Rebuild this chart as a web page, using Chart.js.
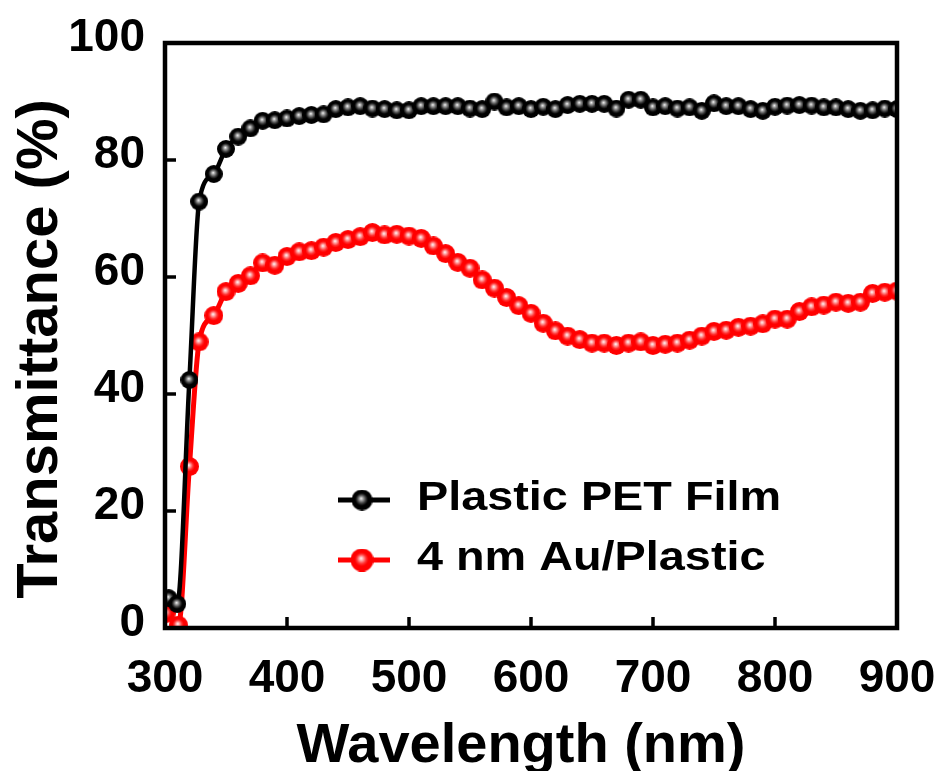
<!DOCTYPE html>
<html>
<head>
<meta charset="utf-8">
<script src="https://cdn.jsdelivr.net/npm/chart.js@4/dist/chart.umd.min.js"></script>
<style>
  html, body { margin: 0; padding: 0; background: #fff; }
  #wrap { width: 935px; height: 771px; }
</style>
</head>
<body>
<div id="wrap"><canvas id="chart" width="935" height="771"></canvas></div>
<script>
// Plastic PET film
const petWavelengths = [303, 310, 320, 328, 340, 350, 360, 370, 380, 390, 400, 410, 420, 430, 440, 450, 460, 470, 480, 490,
  500, 510, 520, 530, 540, 550, 560, 570, 580, 590, 600, 610, 620, 630, 640, 650, 660, 670, 680, 690,
  700, 710, 720, 730, 740, 750, 760, 770, 780, 790, 800, 810, 820, 830, 840, 850, 860, 870, 880, 890, 900];
const petValues = [5.1, 4.1, 42.4, 72.9, 77.6, 81.9, 84.0, 85.4, 86.7, 86.8, 87.1, 87.5, 87.7, 87.8, 88.7, 89.0, 89.2, 88.8, 88.7, 88.5,
  88.5, 89.2, 89.2, 89.2, 89.2, 88.8, 88.7, 90.0, 89.0, 89.2, 88.7, 89.1, 88.7, 89.4, 89.6, 89.6, 89.6, 88.8, 90.3, 90.3,
  89.0, 89.2, 88.8, 89.0, 88.4, 89.7, 89.2, 89.2, 88.7, 88.4, 89.1, 89.3, 89.4, 89.3, 89.0, 89.0, 88.7, 88.4, 88.5, 88.8, 88.7];

// 4 nm Au on plastic
const auWavelengths = [301, 311, 320, 328, 340, 350, 360, 370, 380, 390, 400, 410, 420, 430, 440, 450, 460, 470, 480, 490,
  500, 510, 520, 530, 540, 550, 560, 570, 580, 590, 600, 610, 620, 630, 640, 650, 660, 670, 680, 690,
  700, 710, 720, 730, 740, 750, 760, 770, 780, 790, 800, 810, 820, 830, 840, 850, 860, 870, 880, 890, 900];
const auValues = [2.5, 0.5, 27.6, 48.9, 53.4, 57.5, 58.9, 60.2, 62.4, 62.0, 63.5, 64.3, 64.5, 65.1, 65.9, 66.4, 66.9, 67.6, 67.2, 67.3,
  67.0, 66.6, 65.3, 64.0, 62.5, 61.5, 59.5, 58.1, 56.5, 55.1, 53.8, 52.1, 50.8, 49.9, 49.3, 48.7, 48.7, 48.3, 48.7, 48.9,
  48.3, 48.5, 48.7, 49.2, 49.9, 50.7, 50.9, 51.4, 51.6, 52.0, 52.8, 52.8, 54.1, 54.9, 55.2, 55.7, 55.5, 55.7, 57.2, 57.4, 57.6];

const seriesLabels = ['Plastic PET Film', '4 nm Au/Plastic'];
const xTicks = [300, 400, 500, 600, 700, 800, 900];
const yTicks = [0, 20, 40, 60, 80, 100];

const FONT = '"Liberation Sans", Arial, Helvetica, sans-serif';

// shaded sphere used as marker
function makeBall(r, dark, mid, light) {
  const c = document.createElement('canvas');
  c.width = c.height = Math.ceil(2 * r);
  const g = c.getContext('2d');
  const grad = g.createRadialGradient(r * 0.92, r * 0.85, 0, r, r, r);
  grad.addColorStop(0, '#ffffff');
  grad.addColorStop(0.16, light);
  grad.addColorStop(0.42, mid);
  grad.addColorStop(0.6, dark);
  grad.addColorStop(1, dark);
  g.fillStyle = grad;
  g.beginPath();
  g.arc(r, r, r, 0, Math.PI * 2);
  g.fill();
  return c;
}

const blackBall = makeBall(9, '#000000', '#3a3a3a', '#a8a8a8');
const redBall = makeBall(9.5, '#ff0000', '#ff3030', '#ffb0b0');
const blackBallBig = makeBall(10.5, '#000000', '#3a3a3a', '#a8a8a8');
const redBallBig = makeBall(11.5, '#ff0000', '#ff3030', '#ffb0b0');

const toPoints = (xs, ys) => xs.map((x, i) => ({ x: x, y: ys[i] }));

// frame + inward ticks
const framePlugin = {
  id: 'frame',
  afterDatasetsDraw(chart) {
    const { ctx, chartArea: a, scales: { x, y } } = chart;
    ctx.save();
    ctx.strokeStyle = '#000';
    ctx.lineWidth = 3.5;
    x.ticks.forEach(t => {
      const px = x.getPixelForValue(t.value);
      ctx.beginPath();
      ctx.moveTo(px, a.bottom);
      ctx.lineTo(px, a.bottom - 11);
      ctx.stroke();
    });
    y.ticks.forEach(t => {
      const py = y.getPixelForValue(t.value);
      ctx.beginPath();
      ctx.moveTo(a.left, py);
      ctx.lineTo(a.left + 11, py);
      ctx.stroke();
    });
    ctx.lineWidth = 4.5;
    ctx.strokeRect(a.left, a.top, a.right - a.left, a.bottom - a.top);
    ctx.restore();
  }
};

// axis titles and the in-plot legend
const textPlugin = {
  id: 'texts',
  afterDraw(chart) {
    const { ctx, chartArea: a } = chart;
    ctx.save();
    ctx.fillStyle = '#000';

    // x title
    ctx.font = 'bold 56px ' + FONT;
    ctx.textAlign = 'center';
    ctx.textBaseline = 'alphabetic';
    ctx.fillText('Wavelength (nm)', 521, 762);

    // y title
    ctx.save();
    ctx.translate(57, 349);
    ctx.rotate(-Math.PI / 2);
    ctx.font = 'bold 58px ' + FONT;
    ctx.fillText('Transmittance (%)', 0, 0);
    ctx.restore();

    // legend
    const rows = [
      { ds: chart.data.datasets[0], ball: blackBallBig, y: 500 },
      { ds: chart.data.datasets[1], ball: redBallBig, y: 560 }
    ];
    ctx.font = 'bold 40px ' + FONT;
    ctx.textAlign = 'left';
    rows.forEach(r => {
      ctx.strokeStyle = r.ds.borderColor;
      ctx.lineWidth = 5;
      ctx.beginPath();
      ctx.moveTo(338, r.y);
      ctx.lineTo(390, r.y);
      ctx.stroke();
      ctx.drawImage(r.ball, 362 - r.ball.width / 2, r.y - r.ball.height / 2);
      ctx.save();
      ctx.translate(417, r.y + 10);
      ctx.scale(1.17, 1);
      ctx.fillStyle = '#000';
      ctx.fillText(r.ds.label, 0, 0);
      ctx.restore();
    });
    ctx.restore();
  }
};

new Chart(document.getElementById('chart'), {
  type: 'line',
  data: {
    datasets: [
      {
        label: seriesLabels[0],
        data: toPoints(petWavelengths, petValues),
        borderColor: '#000000',
        borderWidth: 4.5,
        pointStyle: blackBall,
        pointRadius: 9,
        cubicInterpolationMode: 'monotone'
      },
      {
        label: seriesLabels[1],
        data: toPoints(auWavelengths, auValues),
        borderColor: '#ff0000',
        borderWidth: 5,
        pointStyle: redBall,
        pointRadius: 9,
        cubicInterpolationMode: 'monotone'
      }
    ]
  },
  options: {
    responsive: false,
    devicePixelRatio: 1,
    animation: false,
    layout: { padding: { top: 43, right: 38, left: 0, bottom: 0 } },
    plugins: {
      legend: { display: false },
      tooltip: { enabled: false }
    },
    scales: {
      x: {
        type: 'linear',
        min: 300,
        max: 900,
        afterBuildTicks: s => { s.ticks = xTicks.map(v => ({ value: v })); },
        afterFit: s => { s.height = 143; s.paddingLeft = 0; s.paddingRight = 0; },
        grid: { display: false, drawTicks: false },
        border: { display: false },
        ticks: {
          color: '#000',
          padding: 24,
          maxRotation: 0,
          font: { family: FONT, size: 46, weight: 'bold' }
        }
      },
      y: {
        type: 'linear',
        min: 0,
        max: 100,
        afterBuildTicks: s => { s.ticks = yTicks.map(v => ({ value: v })); },
        afterFit: s => { s.width = 165; s.paddingTop = 0; s.paddingBottom = 0; },
        grid: { display: false, drawTicks: false },
        border: { display: false },
        ticks: {
          color: '#000',
          padding: 20,
          labelOffset: -5,
          font: { family: FONT, size: 46, weight: 'bold' }
        }
      }
    }
  },
  plugins: [framePlugin, textPlugin]
});
</script>
</body>
</html>
